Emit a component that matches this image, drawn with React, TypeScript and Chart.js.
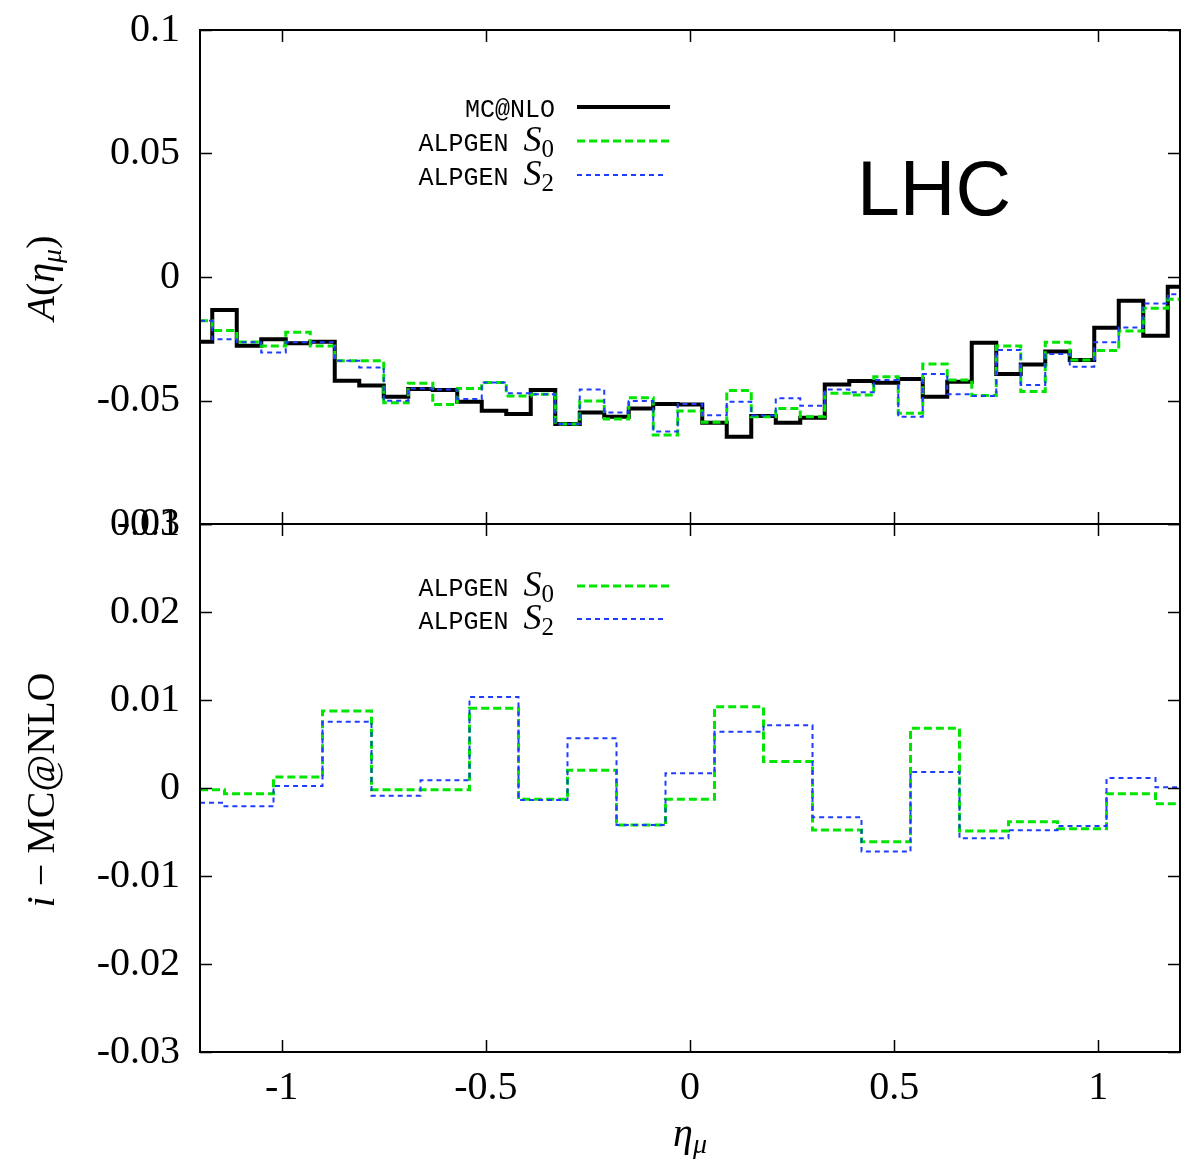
import React, { useEffect, useRef } from "react";
import { Chart, registerables } from "chart.js";

Chart.register(...registerables);

// ---------- data ----------
const etaFine = [
  -1.2, -1.14, -1.08, -1.02, -0.96, -0.9, -0.84, -0.78, -0.72, -0.66, -0.6,
  -0.54, -0.48, -0.42, -0.36, -0.3, -0.24, -0.18, -0.12, -0.06, 0, 0.06, 0.12,
  0.18, 0.24, 0.3, 0.36, 0.42, 0.48, 0.54, 0.6, 0.66, 0.72, 0.78, 0.84, 0.9,
  0.96, 1.02, 1.08, 1.14, 1.2,
];

const mcnlo = [
  -0.0262, -0.0134, -0.0278, -0.0252, -0.0268, -0.0262, -0.042, -0.0439,
  -0.0485, -0.0453, -0.0457, -0.0505, -0.0541, -0.0555, -0.0457, -0.0595,
  -0.0549, -0.0566, -0.0532, -0.0514, -0.0516, -0.059, -0.0647, -0.0563,
  -0.059, -0.057, -0.0435, -0.0421, -0.0428, -0.0413, -0.0485, -0.0424,
  -0.0266, -0.0393, -0.0354, -0.0302, -0.0336, -0.0205, -0.0096, -0.0238,
  -0.0039,
];

const alpgenS0 = [
  -0.0177, -0.0217, -0.0263, -0.0279, -0.0224, -0.0279, -0.0339, -0.0339,
  -0.0509, -0.043, -0.0516, -0.0451, -0.0427, -0.0482, -0.0475, -0.0595,
  -0.0502, -0.0575, -0.0489, -0.064, -0.0543, -0.0588, -0.046, -0.0566,
  -0.0532, -0.0566, -0.0471, -0.0478, -0.0404, -0.0552, -0.0352, -0.0417,
  -0.048, -0.0279, -0.0464, -0.0264, -0.0336, -0.0298, -0.0219, -0.0127,
  -0.009,
];

const alpgenS2 = [
  -0.0177, -0.0252, -0.0264, -0.0306, -0.0264, -0.0264, -0.0339, -0.0366,
  -0.0501, -0.0451, -0.0455, -0.0494, -0.0427, -0.0471, -0.0475, -0.0595,
  -0.0455, -0.0549, -0.0502, -0.0626, -0.0514, -0.056, -0.0505, -0.0561,
  -0.0491, -0.0521, -0.0455, -0.0467, -0.0417, -0.0566, -0.0393, -0.0475,
  -0.0482, -0.0296, -0.0437, -0.0312, -0.0363, -0.0264, -0.0204, -0.0107,
  -0.007,
];

const etaCoarse = [
  -1.2, -1.08, -0.96, -0.84, -0.72, -0.6, -0.48, -0.36, -0.24, -0.12, 0, 0.12,
  0.24, 0.36, 0.48, 0.6, 0.72, 0.84, 0.96, 1.08, 1.2,
];

const diffS0 = [
  -0.0002, -0.00065, 0.00125, 0.00875, -0.0002, -0.0002, 0.00905, -0.00129,
  0.00201, -0.0042, -0.00129, 0.00924, 0.003, -0.00477, -0.0061, 0.00678,
  -0.00489, -0.00383, -0.00462, -0.00064, -0.00178,
];

const diffS2 = [
  -0.00167, -0.00208, 0.00023, 0.00754, -0.00087, 0.00087, 0.01034, -0.00136,
  0.00565, -0.0042, 0.00167, 0.0064, 0.00712, -0.00333, -0.00723, 0.00182,
  -0.00572, -0.00481, -0.00432, 0.00114, 0.00008,
];

const xTicks = [-1, -0.5, 0, 0.5, 1];
const topYTicks = [-0.1, -0.05, 0, 0.05, 0.1];
const bottomYTicks = [-0.03, -0.02, -0.01, 0, 0.01, 0.02, 0.03];

// ---------- styles ----------
const SERIF = "'Liberation Serif', 'DejaVu Serif', serif";
const MONO = "'Liberation Mono', 'DejaVu Sans Mono', monospace";
const SANS = "'Liberation Sans', Arial, sans-serif";
const BLACK = "#000000";
const GREEN = "#00e600";
const BLUE = "#1f3cff";

const W = 1185;
const TOP_H = 560;
const BOT_TOP = 500;
const BOT_H = 1169 - BOT_TOP;

type Seg = { t: string; f: string; dy?: number };

function drawSegs(
  ctx: CanvasRenderingContext2D,
  segs: Seg[],
  x: number,
  y: number,
  align: "left" | "center" | "right"
) {
  let w = 0;
  for (const s of segs) {
    ctx.font = s.f;
    w += ctx.measureText(s.t).width;
  }
  let cx = align === "left" ? x : align === "center" ? x - w / 2 : x - w;
  ctx.textAlign = "left";
  ctx.textBaseline = "alphabetic";
  ctx.fillStyle = "#000";
  for (const s of segs) {
    ctx.font = s.f;
    ctx.fillText(s.t, cx, y + (s.dy || 0));
    cx += ctx.measureText(s.t).width;
  }
}

function drawRotated(ctx: CanvasRenderingContext2D, segs: Seg[], x: number, y: number) {
  ctx.save();
  ctx.translate(x, y);
  ctx.rotate(-Math.PI / 2);
  drawSegs(ctx, segs, 0, 0, "center");
  ctx.restore();
}

function legendLine(
  ctx: CanvasRenderingContext2D,
  x1: number,
  x2: number,
  y: number,
  color: string,
  width: number,
  dash: number[]
) {
  ctx.save();
  ctx.strokeStyle = color;
  ctx.lineWidth = width;
  ctx.setLineDash(dash);
  ctx.beginPath();
  ctx.moveTo(x1, y);
  ctx.lineTo(x2, y);
  ctx.stroke();
  ctx.restore();
}

function drawFrame(chart: any, yTicks: number[]) {
  const ctx: CanvasRenderingContext2D = chart.ctx;
  const { left, right, top, bottom } = chart.chartArea;
  const xs = chart.scales.x;
  const ys = chart.scales.y;
  const TL = 12;
  ctx.save();
  ctx.strokeStyle = "#000";
  ctx.lineWidth = 1.5;
  ctx.setLineDash([]);
  ctx.beginPath();
  for (const v of xTicks) {
    const px = Math.round(xs.getPixelForValue(v)) + 0.5;
    ctx.moveTo(px, bottom);
    ctx.lineTo(px, bottom - TL);
    ctx.moveTo(px, top);
    ctx.lineTo(px, top + TL);
  }
  for (const v of yTicks) {
    const py = Math.round(ys.getPixelForValue(v)) + 0.5;
    ctx.moveTo(left, py);
    ctx.lineTo(left + TL, py);
    ctx.moveTo(right, py);
    ctx.lineTo(right - TL, py);
  }
  ctx.stroke();
  ctx.lineWidth = 2;
  ctx.strokeRect(left, top, right - left, bottom - top);
  ctx.restore();
}

const fmt = (v: number) => {
  const r = Math.round(v * 1000) / 1000;
  return r === 0 ? "0" : String(r);
};

function series(xs: number[], ys: number[]) {
  return xs.map((x, i) => ({ x, y: ys[i] }));
}

function lineDs(label: string, data: any[], color: string, width: number, dash: number[], order: number) {
  return {
    label,
    data,
    borderColor: color,
    backgroundColor: color,
    borderWidth: width,
    borderDash: dash,
    borderCapStyle: "butt",
    borderJoinStyle: "miter",
    stepped: "middle",
    pointRadius: 0,
    pointHoverRadius: 0,
    fill: false,
    order,
  };
}

const alpgenLabel = (sub: string): Seg[] => [
  { t: "ALPGEN ", f: `25px ${MONO}` },
  { t: "S", f: `italic 36px ${SERIF}` },
  { t: sub, f: `25px ${SERIF}`, dy: 6 },
];

export default function App() {
  const topRef = useRef<HTMLCanvasElement>(null);
  const botRef = useRef<HTMLCanvasElement>(null);

  useEffect(() => {
    const topPlugin = {
      id: "topDecor",
      afterDraw(chart: any) {
        const ctx: CanvasRenderingContext2D = chart.ctx;
        drawFrame(chart, topYTicks);
        // legend
        drawSegs(ctx, [{ t: "MC@NLO", f: `25px ${MONO}` }], 555, 117, "right");
        drawSegs(ctx, alpgenLabel("0"), 554, 151, "right");
        drawSegs(ctx, alpgenLabel("2"), 554, 185, "right");
        legendLine(ctx, 577, 670, 107, BLACK, 4, []);
        legendLine(ctx, 577, 670, 141, GREEN, 3, [8, 4]);
        legendLine(ctx, 577, 665, 175, BLUE, 2, [5, 4]);
        // LHC
        drawSegs(ctx, [{ t: "LHC", f: `77px ${SANS}` }], 857, 215, "left");
        // y title
        drawRotated(
          ctx,
          [
            { t: "A", f: `italic 40px ${SERIF}` },
            { t: "(", f: `40px ${SERIF}` },
            { t: "η", f: `italic 40px ${SERIF}` },
            { t: "μ", f: `italic 28px ${SERIF}`, dy: 7 },
            { t: ")", f: `40px ${SERIF}` },
          ],
          54,
          278
        );
      },
    };

    const botPlugin = {
      id: "botDecor",
      afterDraw(chart: any) {
        const ctx: CanvasRenderingContext2D = chart.ctx;
        drawFrame(chart, bottomYTicks);
        const o = BOT_TOP;
        drawSegs(ctx, alpgenLabel("0"), 554, 596 - o, "right");
        drawSegs(ctx, alpgenLabel("2"), 554, 629 - o, "right");
        legendLine(ctx, 577, 670, 586 - o, GREEN, 3, [8, 4]);
        legendLine(ctx, 577, 665, 619 - o, BLUE, 2, [5, 4]);
        drawRotated(
          ctx,
          [
            { t: "i", f: `italic 40px ${SERIF}` },
            { t: " − ", f: `40px ${SERIF}` },
            { t: "MC@NLO", f: `40px ${SERIF}` },
          ],
          54,
          790 - o
        );
        drawSegs(
          ctx,
          [
            { t: "η", f: `italic 40px ${SERIF}` },
            { t: "μ", f: `italic 28px ${SERIF}`, dy: 7 },
          ],
          690,
          1146 - o,
          "center"
        );
      },
    };

    const yScale = (ticks: number[], min: number, max: number) => ({
      type: "linear",
      min,
      max,
      grid: { display: false, drawTicks: false },
      border: { display: false },
      afterBuildTicks: (s: any) => {
        s.ticks = ticks.map((v) => ({ value: v }));
      },
      afterFit: (s: any) => {
        s.width = 200;
        s.paddingTop = 0;
        s.paddingBottom = 0;
      },
      ticks: {
        callback: (v: any) => fmt(Number(v)),
        font: { family: SERIF, size: 40 },
        color: "#000",
        padding: 20,
      },
    });

    const topChart = new Chart(topRef.current as HTMLCanvasElement, {
      type: "line",
      data: {
        datasets: [
          lineDs("MC@NLO", series(etaFine, mcnlo), BLACK, 4, [], 3),
          lineDs("ALPGEN S0", series(etaFine, alpgenS0), GREEN, 3, [8, 4], 2),
          lineDs("ALPGEN S2", series(etaFine, alpgenS2), BLUE, 2, [5, 4], 1),
        ] as any,
      },
      options: {
        responsive: false,
        animation: false,
        devicePixelRatio: 1,
        layout: { padding: { top: 30, right: 5, bottom: TOP_H - 524, left: 0 } },
        plugins: { legend: { display: false }, tooltip: { enabled: false } },
        events: [],
        scales: {
          x: {
            type: "linear",
            min: -1.2,
            max: 1.2,
            display: false,
            afterBuildTicks: (s: any) => {
              s.ticks = xTicks.map((v) => ({ value: v }));
            },
          },
          y: yScale(topYTicks, -0.1, 0.1),
        } as any,
      },
      plugins: [topPlugin],
    } as any);

    const botChart = new Chart(botRef.current as HTMLCanvasElement, {
      type: "line",
      data: {
        datasets: [
          lineDs("ALPGEN S0", series(etaCoarse, diffS0), GREEN, 3, [8, 4], 2),
          lineDs("ALPGEN S2", series(etaCoarse, diffS2), BLUE, 2, [5, 4], 1),
        ] as any,
      },
      options: {
        responsive: false,
        animation: false,
        devicePixelRatio: 1,
        layout: { padding: { top: 524 - BOT_TOP, right: 5, bottom: 0, left: 0 } },
        plugins: { legend: { display: false }, tooltip: { enabled: false } },
        events: [],
        scales: {
          x: {
            type: "linear",
            min: -1.2,
            max: 1.2,
            grid: { display: false, drawTicks: false },
            border: { display: false },
            afterBuildTicks: (s: any) => {
              s.ticks = xTicks.map((v) => ({ value: v }));
            },
            afterFit: (s: any) => {
              s.height = BOT_H - (1052 - BOT_TOP);
              s.paddingLeft = 0;
              s.paddingRight = 0;
            },
            ticks: {
              callback: (v: any) => fmt(Number(v)),
              font: { family: SERIF, size: 40 },
              color: "#000",
              padding: 12,
              maxRotation: 0,
              autoSkip: false,
            },
          },
          y: yScale(bottomYTicks, -0.03, 0.03),
        } as any,
      },
      plugins: [botPlugin],
    } as any);

    return () => {
      topChart.destroy();
      botChart.destroy();
    };
  }, []);

  return (
    <div
      style={{
        position: "absolute",
        left: 0,
        top: 0,
        width: W,
        height: 1169,
        background: "#fff",
        overflow: "hidden",
      }}
    >
      <canvas
        ref={topRef}
        width={W}
        height={TOP_H}
        style={{ position: "absolute", left: 0, top: 0, width: W, height: TOP_H }}
      />
      <canvas
        ref={botRef}
        width={W}
        height={BOT_H}
        style={{ position: "absolute", left: 0, top: BOT_TOP, width: W, height: BOT_H }}
      />
    </div>
  );
}
